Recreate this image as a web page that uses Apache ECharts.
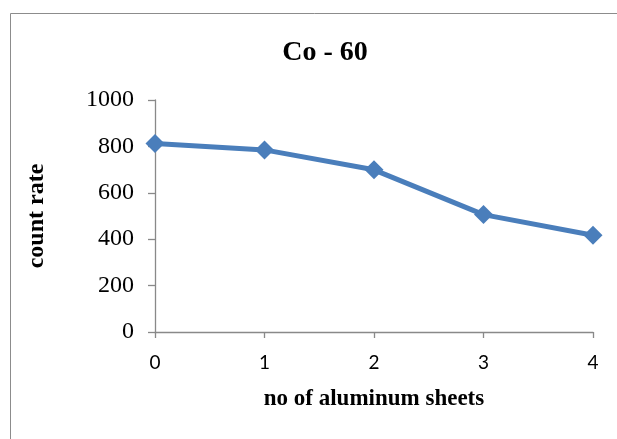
<!DOCTYPE html>
<html>
<head>
<meta charset="utf-8">
<script src="https://cdn.jsdelivr.net/npm/echarts@6/dist/echarts.min.js"></script>
<style>
html,body{margin:0;padding:0;background:#fff;}
#chart{width:617px;height:439px;}
</style>
</head>
<body>
<div id="chart"></div>
<script>
const sheets = [0, 1, 2, 3, 4];
const countRate = [813, 785, 699, 506, 417];
const titleText = 'Co - 60';
const xName = 'no of aluminum sheets';
const yName = 'count rate';

const chart = echarts.init(document.getElementById('chart'), null, {renderer: 'canvas'});
const serif = '"Liberation Serif", "Times New Roman", serif';
const axisColor = '#898989';
chart.setOption({
  backgroundColor: '#ffffff',
  animation: false,
  graphic: [{
    type: 'rect',
    shape: {x: 10.5, y: 13.5, width: 700, height: 500},
    style: {fill: 'none', stroke: '#8c8c8c', lineWidth: 1},
    z: -1
  }],
  title: {
    text: titleText,
    left: 320,
    textAlign: 'center',
    top: 34,
    textStyle: {fontFamily: serif, fontWeight: 'bold', fontSize: 28, color: '#000'}
  },
  grid: {left: 155, right: 24, top: 100, bottom: 107, containLabel: false},
  xAxis: {
    type: 'value',
    min: 0, max: 4, interval: 1,
    name: xName,
    nameLocation: 'middle',
    nameGap: 56,
    nameTextStyle: {fontFamily: serif, fontWeight: 'bold', fontSize: 23, color: '#000'},
    axisLine: {lineStyle: {color: axisColor, width: 1.3}},
    axisTick: {show: true, length: 6, lineStyle: {color: axisColor, width: 1.3}},
    axisLabel: {fontFamily: 'Lato, "Open Sans", sans-serif', fontSize: 19, color: '#000', margin: 21},
    splitLine: {show: false}
  },
  yAxis: {
    type: 'value',
    min: 0, max: 1000, interval: 200,
    name: yName,
    nameLocation: 'middle',
    nameGap: 106,
    nameRotate: 90,
    nameTextStyle: {fontFamily: serif, fontWeight: 'bold', fontSize: 24, color: '#000'},
    axisLine: {show: true, lineStyle: {color: axisColor, width: 1.3}},
    axisTick: {show: true, length: 7, lineStyle: {color: axisColor, width: 1.3}},
    axisLabel: {fontFamily: serif, fontSize: 24, color: '#000', margin: 21, formatter: v => String(v)},
    splitLine: {show: false}
  },
  series: [{
    type: 'line',
    data: sheets.map((s, i) => [s, countRate[i]]),
    symbol: 'diamond',
    symbolSize: 19,
    lineStyle: {color: '#4a7ebb', width: 5},
    itemStyle: {color: '#4a7ebb'},
    clip: false
  }]
});
</script>
</body>
</html>
